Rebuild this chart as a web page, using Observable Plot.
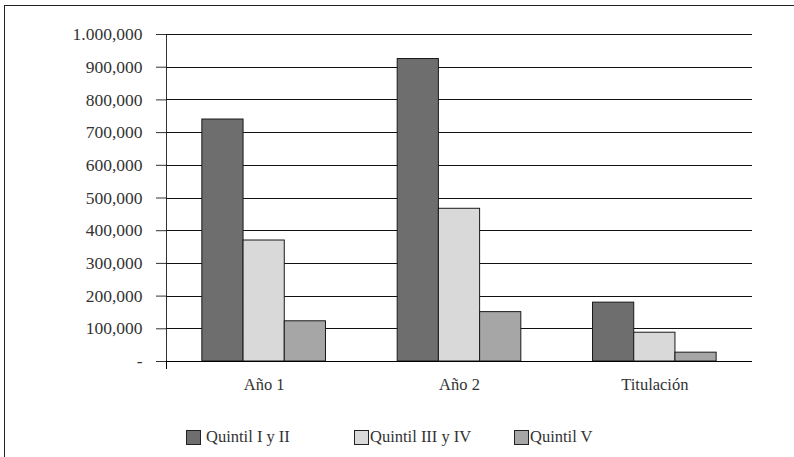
<!DOCTYPE html>
<html>
<head>
<meta charset="utf-8">
<script src="https://cdn.jsdelivr.net/npm/d3@7"></script>
<script src="https://cdn.jsdelivr.net/npm/@observablehq/plot@0.6"></script>
<style>
  html, body { margin: 0; padding: 0; background: #fff; }
  #wrap {
    position: relative; width: 794px; height: 457px; overflow: hidden;
    font-family: 'Liberation Serif', 'Times New Roman', serif; color: #333;
  }
  #frame {
    position: absolute; left: 4px; top: 5px; right: -2px; bottom: -2px;
    border-top: 1px solid #222; border-left: 1px solid #222;
  }
  #chart { position: absolute; left: 0; top: 0; }
  #legend {
    position: absolute; top: 427px; left: 0; width: 794px; height: 20px;
    font-size: 16.5px;
  }
  .item { position: absolute; display: flex; align-items: center; white-space: nowrap; }
  .sw { width: 13px; height: 13px; border: 1px solid #222; box-sizing: content-box; }
</style>
</head>
<body>
<div id="wrap">
  <div id="frame"></div>
  <div id="chart"></div>
  <div id="legend"></div>
</div>
<script>
// Matrícula por quintil de ingreso, por año y titulación
const groups = ["Año 1", "Año 2", "Titulación"];
const series = ["Quintil I y II", "Quintil III y IV", "Quintil V"];
const seriesColors = ["#6e6e6e", "#d9d9d9", "#a6a6a6"];
const quintilIyII = [740000, 925000, 180000];
const quintilIIIyIV = [370000, 467000, 88000];
const quintilV = [123000, 151000, 27000];
const yTicks = [0, 100000, 200000, 300000, 400000, 500000, 600000, 700000, 800000, 900000, 1000000];

const serifFont = "'Liberation Serif', 'Times New Roman', serif";

const valuesBySeries = [quintilIyII, quintilIIIyIV, quintilV];
const rows = groups.flatMap((g, gi) =>
  series.map((s, si) => ({ group: g, series: s, value: valuesBySeries[si][gi] }))
);

// "1.000,000" style: dot for millions, comma for thousands; zero as a dash
const fmt = d => d === 0 ? "-" : d3.format(",")(d).replace(/,(?=\d{3},)/, ".");

const chart = Plot.plot({
  width: 794,
  height: 410,
  marginLeft: 166,
  marginRight: 42,
  marginTop: 34,
  marginBottom: 49,
  style: { background: "transparent", fontSize: "16.5px", color: "#333" },
  facet: { data: rows, x: "group" },
  fx: { domain: groups, padding: 0, round: false, axis: "bottom", tickSize: 0, tickPadding: 17, label: null },
  x: { domain: series, paddingInner: 0, paddingOuter: 0.87, round: false, axis: null },
  y: { domain: [0, 1000000], ticks: yTicks, tickFormat: fmt, tickSize: 10, tickPadding: 14, line: true, label: null },
  color: { domain: series, range: seriesColors },
  marks: [
    Plot.ruleY(yTicks.slice(1), { stroke: "#111", strokeWidth: 1, shapeRendering: "crispEdges" }),
    Plot.barY(rows, { x: "series", y: "value", fill: "series", stroke: "#1a1a1a", strokeWidth: 1, inset: 0 }),
    Plot.ruleY([0], { stroke: "#000", strokeWidth: 1, shapeRendering: "crispEdges" })
  ]
});
document.getElementById("chart").appendChild(chart);

const svg = d3.select(chart);
svg.style("font-family", serifFont);
svg.selectAll("text, g").style("font-family", serifFont).style("font-size", "16.5px");
// value-axis labels are set a little larger
svg.selectAll('[aria-label^="y-axis"] text').style("font-size", "17.5px");

// small downward tick where the category axis meets the value axis
const y = chart.scale("y");
svg.append("line")
  .attr("x1", 166.5).attr("x2", 166.5)
  .attr("y1", y.apply(0)).attr("y2", y.apply(0) + 8)
  .attr("stroke", "#000").attr("stroke-width", 1);

// legend
const legendX = [186, 354, 514];
const legend = document.getElementById("legend");
series.forEach((s, i) => {
  const item = document.createElement("div");
  item.className = "item";
  item.style.left = legendX[i] + "px";
  item.style.top = "0px";
  item.style.fontFamily = serifFont;
  const sw = document.createElement("div");
  sw.className = "sw";
  sw.style.background = seriesColors[i];
  sw.style.marginRight = i === 0 ? "5px" : "1px";
  const t = document.createElement("span");
  t.textContent = s;
  item.appendChild(sw);
  item.appendChild(t);
  legend.appendChild(item);
});
</script>
</body>
</html>
